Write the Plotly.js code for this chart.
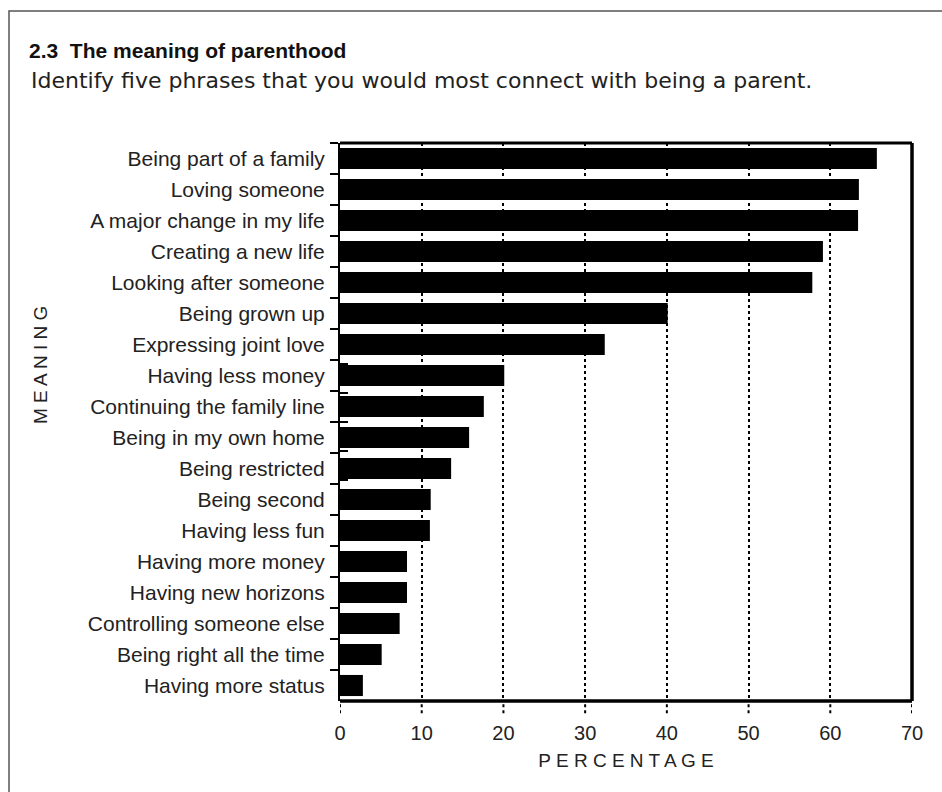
<!DOCTYPE html>
<html>
<head>
<meta charset="utf-8">
<script src="https://cdn.plot.ly/plotly-3.0.1.min.js"></script>
<style>html,body{margin:0;padding:0;background:#fff;}#chart{width:942px;height:792px;}</style>
</head>
<body>
<div id="chart"></div>
<script>
var categories = [
  "Being part of a family",
  "Loving someone",
  "A major change in my life",
  "Creating a new life",
  "Looking after someone",
  "Being grown up",
  "Expressing joint love",
  "Having less money",
  "Continuing the family line",
  "Being in my own home",
  "Being restricted",
  "Being second",
  "Having less fun",
  "Having more money",
  "Having new horizons",
  "Controlling someone else",
  "Being right all the time",
  "Having more status"
];
var percentages = [65.7, 63.5, 63.4, 59.1, 57.8, 40.1, 32.4, 20.1, 17.6, 15.8, 13.6, 11.1, 11.0, 8.2, 8.2, 7.3, 5.1, 2.8];
var xTicks = [0, 10, 20, 30, 40, 50, 60, 70];
var titleText = "2.3  The meaning of parenthood";
var subtitleText = "Identify five phrases that you would most connect with being a parent.";
var xTitle = "P E R C E N T A G E";
var yTitle = "M E A N I N G";

var FONT = "Liberation Sans, Arial, sans-serif";
var W = 942, H = 792, L = 340, R = 30, T = 143, B = 91;
var pw = W - L - R, ph = H - T - B;
function px(x) { return (x - L) / pw; }
function py(y) { return (H - B - y) / ph; }

var traces = [
  {
    type: "bar", orientation: "h",
    x: percentages, y: categories,
    marker: {color: "#000000", line: {width: 0}},
    hoverinfo: "x+y"
  },
  {
    type: "scatter", mode: "markers",
    x: percentages, y: categories, yaxis: "y2",
    marker: {opacity: 0}, hoverinfo: "skip", showlegend: false
  }
];

var shapes = xTicks.map(function (v) {
  return {type: "line", xref: "x", yref: "paper", x0: v, x1: v, y0: -0.022, y1: 0,
          line: {color: "#000", width: 2, dash: "3px,3px"}};
});
// frame: top, right, bottom (thick)
shapes.push({type: "line", xref: "paper", yref: "paper", x0: 0, x1: 1, y0: 1, y1: 1, line: {color: "#000", width: 3}});
shapes.push({type: "line", xref: "paper", yref: "paper", x0: 1, x1: 1, y0: 0, y1: 1, line: {color: "#000", width: 3.5}});
shapes.push({type: "line", xref: "paper", yref: "paper", x0: 0, x1: 1, y0: 0, y1: 0, line: {color: "#000", width: 3.5}});
// page border
shapes.push({type: "rect", xref: "paper", yref: "paper", x0: px(9), x1: px(960), y0: py(810), y1: py(11),
             line: {color: "#555", width: 1.5}, layer: "below"});

var layout = {
  width: W, height: H,
  margin: {l: L, r: R, t: T, b: B, pad: 0},
  paper_bgcolor: "#fff", plot_bgcolor: "#fff",
  showlegend: false,
  bargap: 0.32,
  font: {family: FONT, color: "#222", size: 21},
  title: {
    text: "<b>" + titleText + "</b>",
    xref: "container", yref: "container",
    x: 29 / W, xanchor: "left", y: 1 - 51 / H, yanchor: "middle",
    font: {family: "Liberation Sans Narrow, Arial Narrow, " + FONT, size: 21, color: "#111"}
  },
  xaxis: {
    range: [0, 70], tickvals: xTicks, ticktext: xTicks.map(String),
    showgrid: true, gridcolor: "#000", gridwidth: 2, griddash: "3px,3px",
    zeroline: false, showline: false, ticks: "",
    ticklabelstandoff: 18,
    tickfont: {family: FONT, size: 20, color: "#222"},
    title: {text: xTitle, font: {family: FONT, size: 19, color: "#222"}, standoff: 10},
    fixedrange: true
  },
  yaxis: {
    type: "category", categoryorder: "array", categoryarray: categories,
    autorange: "reversed",
    showgrid: false, zeroline: false,
    showline: true, linecolor: "#000", linewidth: 2,
    ticks: "outside", tickson: "boundaries", ticklen: 8, tickwidth: 2, tickcolor: "#000",
    ticklabelstandoff: 9,
    tickfont: {family: FONT, size: 21, color: "#222"},
    fixedrange: true
  },
  yaxis2: {
    type: "category", categoryorder: "array", categoryarray: categories,
    autorange: "reversed", overlaying: "y", side: "left",
    showgrid: false, zeroline: false, showline: false,
    ticks: "inside", tickson: "boundaries", ticklen: 8, tickwidth: 2, tickcolor: "#000",
    showticklabels: false, fixedrange: true
  },
  shapes: shapes,
  annotations: [
    {
      text: subtitleText, xref: "paper", yref: "paper",
      x: px(29), y: py(81), xanchor: "left", yanchor: "middle", showarrow: false,
      font: {family: "DejaVu Sans, " + FONT, size: 22, color: "#222"}
    },
    {
      text: yTitle, xref: "paper", yref: "paper",
      x: px(40), y: py(365), xanchor: "center", yanchor: "middle", showarrow: false,
      textangle: -90, font: {family: FONT, size: 19, color: "#222"}
    }
  ]
};

Plotly.newPlot("chart", traces, layout, {displayModeBar: false, staticPlot: true});
</script>
</body>
</html>
